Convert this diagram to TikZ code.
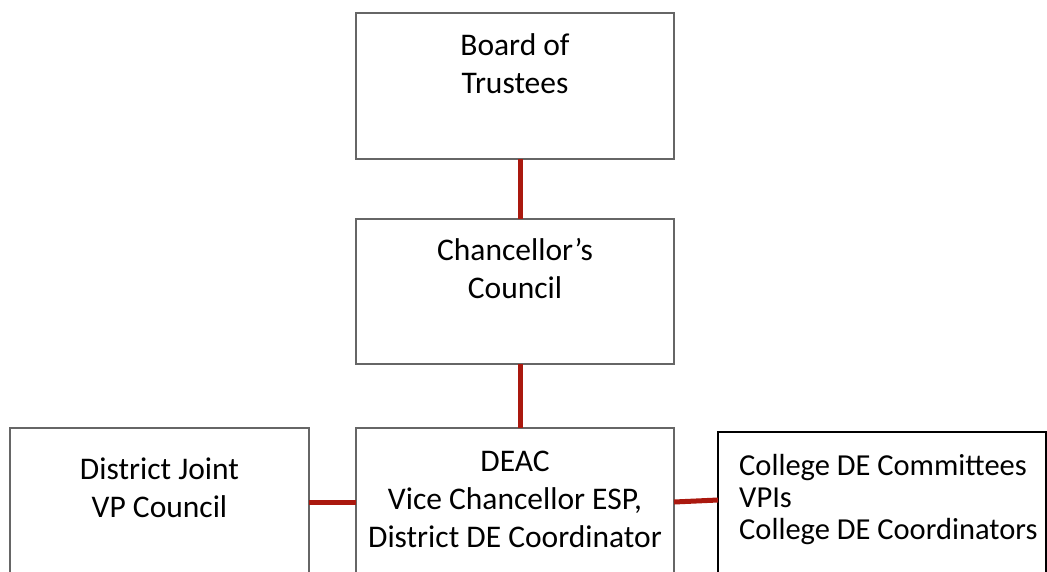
\documentclass[tikz,border=0pt]{standalone}
\usepackage{fontspec}
\setmainfont{Carlito}
\usetikzlibrary{positioning}

\definecolor{linkred}{RGB}{170,24,14}

\begin{document}
\begin{tikzpicture}[
		x=1pt,y=-1pt,
		unit/.style = {
			rectangle,draw=black!60,line width=1.2pt,
			inner sep=0pt,outer sep=0pt,fill=white
		},
		boxtext/.style = {
			anchor=north,align=center,inner sep=0pt,
			font=\fontsize{31.5}{38}\selectfont
		},
		listtext/.style = {
			anchor=north west,align=left,inner sep=0pt,
			font=\fontsize{30.5}{32}\selectfont
		},
		link/.style = {draw=linkred,line width=5pt}]
		\useasboundingbox (0,0) rectangle (1047,571);
		% top of the chart
		\node[unit,minimum width=318pt,minimum height=146pt] (trustees) at (515,86)
			{};
		\node[boxtext] (trusteestext) at ([yshift=-20pt]trustees.north) {Board of\\Trustees};
		\node[unit,minimum width=318pt,minimum height=145pt] (council) at (515,291.5)
			{};
		\node[boxtext] (counciltext) at ([yshift=-19pt]council.north) {Chancellor’s\\Council};
		% bottom row
		\node[unit,minimum width=318pt,minimum height=170pt] (deac) at (515,513)
			{};
		\node[boxtext] (deactext) at ([yshift=-23pt]deac.north) {DEAC\\Vice Chancellor ESP,\\District DE Coordinator};
		\node[unit,minimum width=299pt,minimum height=170pt] (jointvp) at (159.5,513)
			{};
		\node[boxtext] (jointvptext) at ([yshift=-30pt]jointvp.north) {District Joint\\VP Council};
		\node[unit,draw=black,minimum width=328pt,minimum height=170pt] (college) at (882,517)
			{};
		\node[listtext] (collegetext) at ([xshift=21pt,yshift=-22pt]college.north west) {College DE Committees\\VPIs\\College DE Coordinators};
		% connectors
		\draw[link] ([xshift=5pt]trustees.south) -- ([xshift=5pt]council.north);
		\draw[link] ([xshift=5pt]council.south) -- ([xshift=5pt]deac.north);
		\draw[link] ([yshift=-74pt]jointvp.north east) -- ([yshift=-74pt]deac.north west);
		\draw[link] ([yshift=-74pt]deac.north east) -- ([yshift=-68pt]college.north west);
	\end{tikzpicture}
\end{document}
